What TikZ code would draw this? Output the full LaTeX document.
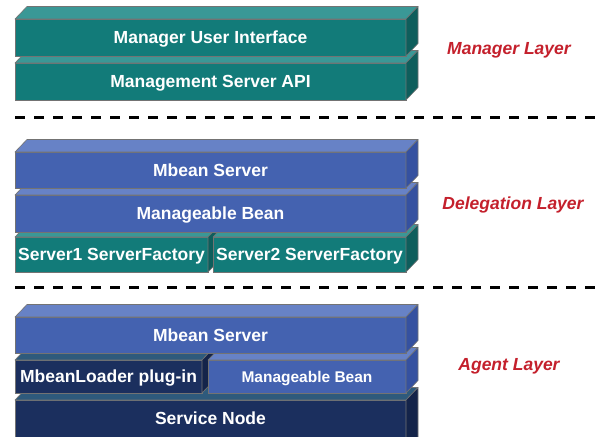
\documentclass[tikz,border=0pt]{standalone}
\usepackage{fontspec}
\setmainfont{Liberation Sans}
\usetikzlibrary{calc}

% slab colours: front, top and side faces
\definecolor{tealF}{HTML}{127B79}
\definecolor{tealT}{HTML}{3A9896}
\definecolor{tealS}{HTML}{0E5E5C}
\definecolor{blueF}{HTML}{4462B0}
\definecolor{blueT}{HTML}{6782C6}
\definecolor{blueS}{HTML}{3551A0}
\definecolor{navyF}{HTML}{1B2F5E}
\definecolor{navyT}{HTML}{2E5A7C}
\definecolor{navyS}{HTML}{14244A}
\definecolor{layerred}{HTML}{C4202C}

\tikzset{
  slabfront/.style={rectangle, draw=black!55, line width=0.6pt, inner sep=0pt, outer sep=0pt,
    text=white, font=\fontsize{17.5}{20}\selectfont\bfseries, text height=12.5pt, text depth=0pt},
  slabedge/.style={draw=black!55, line width=0.6pt, line join=round},
  layerlabel/.style={text=layerred, font=\fontsize{17.5}{20}\selectfont\bfseries\itshape,
    inner sep=0pt, text height=12.6pt, text depth=0pt},
  divider/.style={line width=3pt, dash pattern=on 10pt off 9pt}
}

% depth of the slabs
\def\slabdx{12}
\def\slabdy{12.5}

% #1 name, #2..#5 front face x1,y1,x2,y2, #6 front, #7 top, #8 side colour, #9 text
\newcommand\layerslab[9]{%
  \pgfmathsetmacro\slabW{#4-#2}%
  \pgfmathsetmacro\slabH{#5-#3}%
  \node[slabfront, fill=#6, minimum width=\slabW pt, minimum height=\slabH pt]
    (#1) at ({(#2+#4)/2},{(#3+#5)/2}) {#9};
  \filldraw[slabedge, fill=#7] (#1.north west) -- ++(\slabdx,-\slabdy)
    -- ([shift={(\slabdx,-\slabdy)}]#1.north east) -- (#1.north east) -- cycle;
  \filldraw[slabedge, fill=#8] (#1.north east) -- ++(\slabdx,-\slabdy)
    -- ([shift={(\slabdx,-\slabdy)}]#1.south east) -- (#1.south east) -- cycle;
}

\begin{document}
\begin{tikzpicture}[x=1pt, y=-1pt]
\useasboundingbox (0,0) rectangle (604,436);
\clip (0,0) rectangle (604,436);

% manager layer
\layerslab{msapi}{15}{63}{406}{100}{tealF}{tealT}{tealS}{Management Server API}
\layerslab{mui}{15}{19}{406}{56}{tealF}{tealT}{tealS}{Manager User Interface}

% delegation layer
\layerslab{factoryone}{15}{237}{208}{272}{tealF}{tealT}{tealS}{Server1 ServerFactory}
\layerslab{factorytwo}{213}{237}{406}{272}{tealF}{tealT}{tealS}{Server2 ServerFactory}
\layerslab{dbean}{15}{195}{406}{232}{blueF}{blueT}{blueS}{Manageable Bean}
\layerslab{dserver}{15}{152}{406}{188}{blueF}{blueT}{blueS}{Mbean Server}

% agent layer
\layerslab{snode}{15}{400}{406}{450}{navyF}{navyT}{navyS}{\raisebox{7pt}{Service Node}}
\layerslab{loader}{15}{360}{202}{393}{navyF}{navyT}{navyS}{MbeanLoader plug-in}
\layerslab{abean}{208}{360}{406}{393}{blueF}{blueT}{blueS}{\fontsize{15.5}{18}\selectfont Manageable Bean}
\layerslab{aserver}{15}{317}{406}{353}{blueF}{blueT}{blueS}{Mbean Server}

% layer separators
\coordinate (sepAl) at (15,117.5);
\coordinate (sepAr) at (604,117.5);
\coordinate (sepBl) at (15,287.5);
\coordinate (sepBr) at (604,287.5);
\draw[divider] (sepAl) -- (sepAr);
\draw[divider] (sepBl) -- (sepBr);

% layer names
\node[layerlabel] (lmanager) at (509,48.3) {Manager Layer};
\node[layerlabel] (ldelegation) at (513,203.3) {Delegation Layer};
\node[layerlabel] (lagent) at (509,363.8) {Agent Layer};
\end{tikzpicture}
\end{document}
